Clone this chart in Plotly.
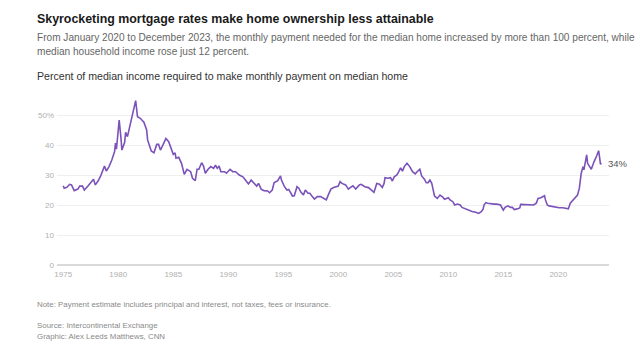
import plotly.graph_objects as go

# Share of median income needed for the monthly payment on the median home
dates = [
    "1975-01", "1975-02", "1975-05", "1975-08", "1975-10", "1976-01", "1976-05", "1976-07",
    "1976-10", "1976-12", "1977-04", "1977-07", "1977-10", "1977-12", "1978-03", "1978-06",
    "1978-10", "1978-12", "1979-03", "1979-06", "1979-09", "1979-10", "1979-11", "1980-01",
    "1980-02", "1980-04", "1980-05", "1980-08", "1980-09", "1980-11", "1981-01", "1981-04",
    "1981-06", "1981-08", "1981-10", "1982-01", "1982-05", "1982-08", "1982-09", "1983-01",
    "1983-04", "1983-07", "1983-09", "1983-11", "1984-02", "1984-05", "1984-08", "1984-11",
    "1985-01", "1985-03", "1985-04", "1985-07", "1985-10", "1986-01", "1986-04", "1986-08",
    "1986-10", "1987-01", "1987-03", "1987-05", "1987-08", "1987-10", "1987-12", "1988-03",
    "1988-06", "1988-09", "1988-11", "1989-01", "1989-03", "1989-05", "1989-09", "1989-11",
    "1990-03", "1990-06", "1990-09", "1991-01", "1991-05", "1991-09", "1991-11", "1992-02",
    "1992-05", "1992-08", "1992-10", "1993-01", "1993-04", "1993-08", "1993-10", "1994-01",
    "1994-03", "1994-07", "1994-10", "1994-11", "1995-02", "1995-05", "1995-07", "1995-09",
    "1995-11", "1996-01", "1996-04", "1996-06", "1996-08", "1996-11", "1997-01", "1997-04",
    "1997-06", "1997-08", "1997-11", "1998-02", "1998-06", "1998-08", "1998-12", "1999-02",
    "1999-05", "1999-08", "2000-01", "2000-03", "2000-05", "2000-09", "2000-12", "2001-02",
    "2001-05", "2001-08", "2001-12", "2002-02", "2002-06", "2002-10", "2003-01", "2003-04",
    "2003-07", "2003-10", "2004-01", "2004-03", "2004-04", "2004-07", "2004-10", "2004-12",
    "2005-02", "2005-05", "2005-07", "2005-09", "2005-11", "2006-01", "2006-04", "2006-07",
    "2006-10", "2007-01", "2007-03", "2007-06", "2007-08", "2007-11", "2008-01", "2008-03",
    "2008-05", "2008-07", "2008-09", "2008-10", "2009-01", "2009-04", "2009-07", "2009-09",
    "2010-01", "2010-03", "2010-06", "2010-08", "2010-11", "2011-02", "2011-04", "2011-08",
    "2011-12", "2012-03", "2012-07", "2012-10", "2013-01", "2013-03", "2013-04", "2013-06",
    "2013-08", "2013-12", "2014-03", "2014-06", "2014-10", "2015-01", "2015-03", "2015-06",
    "2015-09", "2015-11", "2016-01", "2016-04", "2016-07", "2016-08", "2016-11", "2017-03",
    "2017-07", "2017-10", "2018-01", "2018-03", "2018-06", "2018-08", "2018-10", "2018-11",
    "2019-01", "2019-03", "2019-07", "2019-10", "2020-02", "2020-06", "2020-09", "2020-12",
    "2021-02", "2021-04", "2021-07", "2021-10", "2021-12", "2022-02", "2022-04", "2022-05",
    "2022-08", "2022-09", "2023-01", "2023-02", "2023-04", "2023-07", "2023-09", "2023-10",
    "2023-11", "2023-12",
]
pct_income = [
    26.4, 25.6, 25.9, 26.9, 26.7, 24.8, 25.3, 26.3,
    26.3, 25.0, 26.3, 27.6, 28.6, 26.7, 28.0, 29.8,
    33.0, 31.3, 32.8, 35.0, 37.8, 40.6, 38.6, 45.0,
    48.3, 42.2, 38.3, 40.9, 44.2, 42.8, 45.6, 49.1,
    51.7, 54.8, 49.4, 48.9, 47.6, 45.0, 41.7, 38.0,
    37.4, 40.2, 40.2, 38.3, 40.2, 42.2, 41.1, 38.9,
    36.9, 37.4, 35.6, 35.9, 33.9, 30.2, 31.9, 31.1,
    28.9, 28.1, 31.9, 31.9, 34.1, 33.0, 30.6, 31.9,
    32.8, 32.2, 33.3, 32.2, 33.0, 31.1, 31.1, 30.6,
    31.9, 31.1, 31.1, 30.0, 29.4, 27.8, 27.0, 28.3,
    27.2, 26.3, 27.2, 25.2, 24.8, 24.7, 24.1, 25.0,
    27.4, 28.1, 29.7, 28.3, 26.3, 25.0, 25.2, 24.1,
    23.0, 23.1, 26.1, 25.6, 24.4, 23.3, 25.0, 23.9,
    23.9, 23.1, 22.0, 22.8, 22.8, 22.4, 21.7, 23.3,
    25.3, 25.8, 26.3, 27.8, 27.2, 26.7, 25.3, 25.8,
    26.4, 25.3, 26.7, 26.9, 26.1, 25.8, 25.0, 24.2,
    27.2, 26.9, 25.8, 27.2, 29.1, 28.9, 29.1, 28.0,
    29.4, 30.0, 31.1, 32.4, 31.3, 32.8, 33.9, 32.8,
    31.1, 30.4, 31.1, 31.9, 29.7, 28.6, 27.4, 27.4,
    28.3, 27.2, 24.4, 23.0, 22.2, 23.3, 22.6, 21.9,
    22.4, 21.7, 21.1, 20.0, 20.3, 20.0, 19.2, 18.6,
    18.0, 17.8, 17.6, 17.2, 17.8, 18.6, 20.0, 20.8,
    20.6, 20.3, 20.3, 20.3, 20.0, 18.3, 19.2, 19.7,
    19.2, 19.2, 18.5, 18.7, 19.0, 20.2, 20.2, 20.0,
    20.2, 20.0, 20.6, 22.2, 22.4, 22.8, 23.1, 21.7,
    20.0, 19.7, 19.4, 19.4, 19.1, 19.1, 18.9, 18.7,
    20.6, 21.3, 22.0, 23.3, 25.6, 30.6, 32.8, 31.7,
    36.7, 33.9, 31.9, 32.8, 34.4, 36.4, 38.1, 36.1,
    33.6, 34.0,
]

year_ticks = ["1975", "1980", "1985", "1990", "1995", "2000", "2005", "2010", "2015", "2020"]
y_ticks = [0, 10, 20, 30, 40, 50]
y_tick_text = ["0", "10", "20", "30", "40", "50%"]
end_label = "34%"

title = "Skyrocketing mortgage rates make home ownership less attainable"
dek_1 = ("From January 2020 to December 2023, the monthly payment needed for the median home "
         "increased by more than 100 percent, while")
dek_2 = "median household income rose just 12 percent."
chart_label = "Percent of median income required to make monthly payment on median home"
note = "Note: Payment estimate includes principal and interest, not taxes, fees or insurance."
source = "Source: Intercontinental Exchange"
credit = "Graphic: Alex Leeds Matthews, CNN"

FONT = "Liberation Sans, Arial, sans-serif"
LINE = "#7b52b9"
TICK = dict(family=FONT, size=8, color="#b0b0b0")

fig = go.Figure()
fig.add_trace(go.Scatter(
    x=dates, y=pct_income, mode="lines",
    line=dict(color=LINE, width=1.6, shape="linear"),
    hoverinfo="skip", showlegend=False,
))

# Plot area geometry (pixels) used to place the surrounding text
L, R, T, B = 57, 31, 100, 81
W, H = 640, 346
pw, ph = W - L - R, H - T - B


def px_x(x):
    return (x - L) / pw


def px_y(y):
    return (H - B - y) / ph


def text(s, x, y, size, color, bold=False):
    fig.add_annotation(
        text=f"<b>{s}</b>" if bold else s,
        xref="paper", yref="paper", x=px_x(x), y=px_y(y),
        xanchor="left", yanchor="middle", showarrow=False,
        font=dict(family=FONT, size=size, color=color),
    )


text(title, 35, 19, 12.4, "#1a1a1a", bold=True)
text(dek_1, 35, 37, 10.1, "#666666")
text(dek_2, 35, 51, 10.1, "#666666")
text(chart_label, 35, 76, 10.6, "#333333")
text(note, 35, 304, 7.9, "#8a8a8a")
text(source, 35, 325, 7.9, "#8a8a8a")
text(credit, 35, 336, 7.9, "#8a8a8a")

fig.add_annotation(
    x=dates[-1], y=pct_income[-1], text=end_label, xref="x", yref="y",
    xanchor="left", yanchor="middle", xshift=5, showarrow=False,
    font=dict(family=FONT, size=9.5, color="#555555"),
)

fig.update_layout(
    width=W, height=H,
    margin=dict(l=L, r=R, t=T, b=B, pad=0),
    paper_bgcolor="white", plot_bgcolor="white",
    font=dict(family=FONT),
    showlegend=False,
    xaxis=dict(
        type="date", range=["1974-06-07", "2024-08-11"],
        tickvals=[f"{y}-01-01" for y in year_ticks], ticktext=year_ticks,
        showgrid=False, zeroline=False, showline=False, ticks="",
        ticklabelstandoff=3,
        tickfont=TICK, fixedrange=True,
    ),
    yaxis=dict(
        range=[0, 55], tickvals=y_ticks, ticktext=y_tick_text,
        showgrid=True, gridcolor="#efefef", gridwidth=1,
        zeroline=True, zerolinecolor="#d9d9d9", zerolinewidth=2,
        showline=False, ticks="", ticklabelstandoff=2,
        tickfont=TICK, fixedrange=True,
    ),
)

fig.write_html("out.html")
